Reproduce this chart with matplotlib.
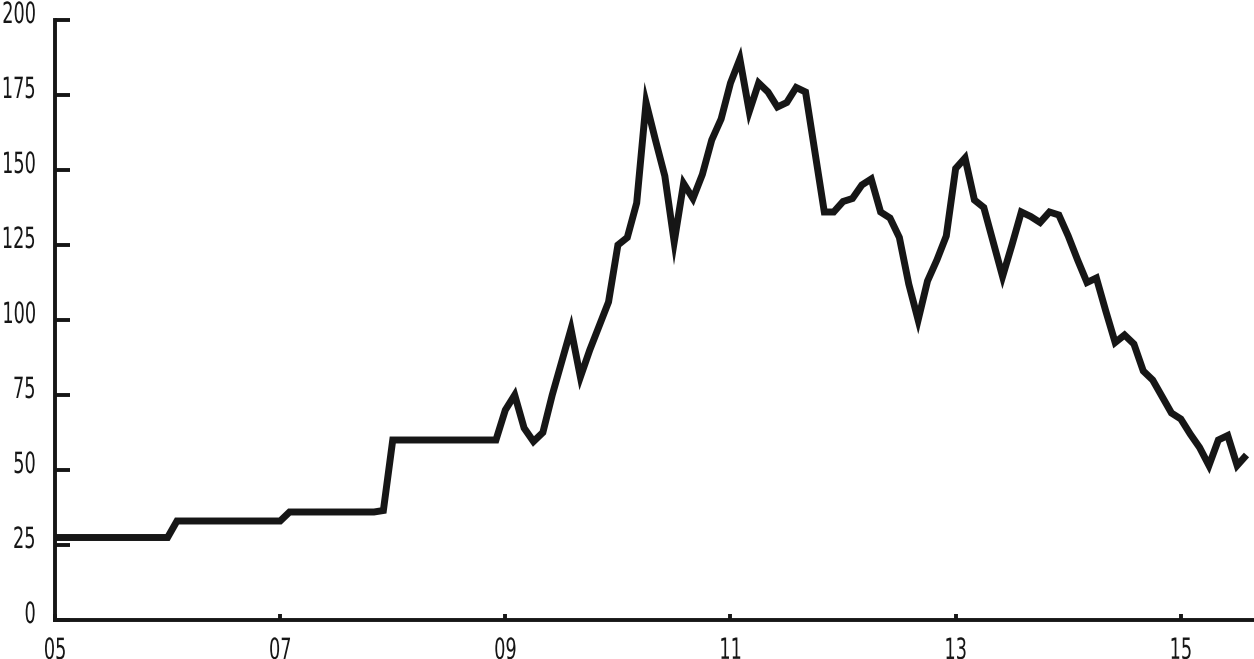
import matplotlib
matplotlib.use("Agg")
import matplotlib.pyplot as plt
from matplotlib.patheffects import AbstractPathEffect
from matplotlib.transforms import Affine2D
import numpy as np

# Monthly values starting January 2005
values = [
    27.5, 27.5, 27.5, 27.5, 27.5, 27.5, 27.5, 27.5, 27.5, 27.5, 27.5, 27.5,   # 2005
    27.5, 33, 33, 33, 33, 33, 33, 33, 33, 33, 33, 33,                        # 2006
    33, 36, 36, 36, 36, 36, 36, 36, 36, 36, 36, 36.5,                        # 2007
    60, 60, 60, 60, 60, 60, 60, 60, 60, 60, 60, 60,                          # 2008
    70, 75, 64, 59.5, 62.5, 75, 86, 97, 81, 90, 98, 106,                     # 2009
    125, 127.5, 139, 172.5, 160, 148, 126, 145.5, 140.5, 148.5, 160, 167,   # 2010
    179, 187, 169.5, 179, 176, 171, 172.5, 177.5, 176, 156, 136, 136,       # 2011
    139.5, 140.5, 145, 147, 136, 134, 127.5, 112, 100, 113, 120, 128,       # 2012
    150.5, 154, 140, 137.5, 126, 114.5, 125, 136, 134.5, 132.5, 136, 135,   # 2013
    128, 120, 112.5, 114, 103, 92.5, 95, 92, 83, 80, 74.5, 69,              # 2014
    67, 62, 57.5, 51.5, 60, 61.5, 51.5, 55,                                 # 2015
]
start_year = 2005
x_ticks = [2005, 2007, 2009, 2011, 2013, 2015]
x_tick_labels = ["05", "07", "09", "11", "13", "15"]
y_ticks = [0, 25, 50, 75, 100, 125, 150, 175, 200]
y_tick_labels = [str(v) for v in y_ticks]

INK = "#161616"


class Stretch(AbstractPathEffect):
    """Scale the glyph outline of a text (kept as real text) about an anchor,
    giving a tall, condensed digit look."""

    def __init__(self, sx=1.0, sy=1.6, xanchor="center", yanchor="baseline", dy=0.0):
        super().__init__()
        self.sx, self.sy = sx, sy
        self.xanchor, self.yanchor = xanchor, yanchor
        self.dy = dy

    def draw_path(self, renderer, gc, tpath, affine, rgbFace=None):
        ext = tpath.get_extents()
        ax_ = {"right": ext.x1, "left": ext.x0}.get(self.xanchor, 0.5 * (ext.x0 + ext.x1))
        ay_ = ext.y1 if self.yanchor == "top" else 0.0
        pre = (Affine2D().translate(-ax_, -ay_).scale(self.sx, self.sy)
               .translate(ax_, ay_))
        post = Affine2D().translate(0, self.dy)
        renderer.draw_path(gc, tpath, pre + affine + post, rgbFace)


x = start_year + np.arange(len(values)) / 12.0

fig = plt.figure(figsize=(12.54, 6.59), dpi=100)
ax = fig.add_axes([55 / 1254, 39 / 659, 1 - 55 / 1254, 600 / 659])
ax.plot(x, values, color=INK, lw=5.0, solid_joinstyle="miter", solid_capstyle="butt")

ax.set_xlim(2005, 2005 + 127.8 / 12)
ax.set_ylim(0, 200)
ax.set_xticks(x_ticks)
ax.set_xticklabels(x_tick_labels)
ax.set_yticks(y_ticks)
ax.set_yticklabels(y_tick_labels, va="baseline")

for s in ["top", "right"]:
    ax.spines[s].set_visible(False)
for s in ["left", "bottom"]:
    ax.spines[s].set_linewidth(2.8)
    ax.spines[s].set_color(INK)
    ax.spines[s].set_capstyle("projecting")

ax.tick_params(axis="y", direction="in", length=11, width=2.8, pad=14, colors=INK,
               labelsize=13)
ax.tick_params(axis="x", direction="in", length=4.5, width=2.8, pad=12, colors=INK,
               labelsize=13)
for lab in ax.get_yticklabels():
    lab.set_family("DejaVu Sans")
    lab.set_path_effects([Stretch(0.98, 1.62, "right", "baseline", dy=-3)])
for lab in ax.get_xticklabels():
    lab.set_family("DejaVu Sans")
    lab.set_path_effects([Stretch(0.98, 1.62, "center", "top")])

fig.savefig("out.png", dpi=100, facecolor="white")
